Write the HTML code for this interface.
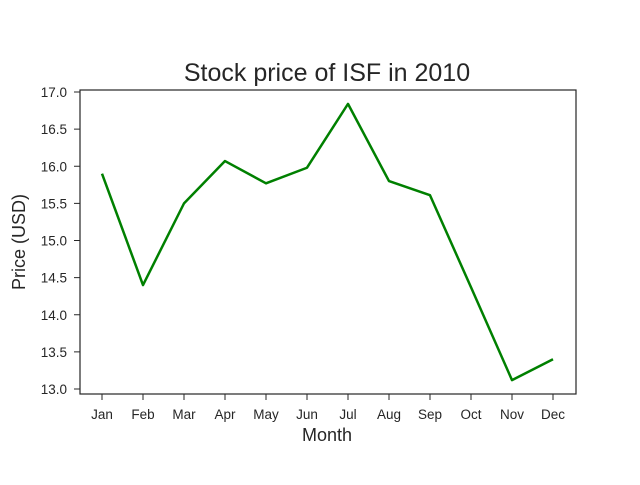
<!DOCTYPE html>
<html><head><meta charset="utf-8"><style>
body{margin:0;background:#fff;}
svg text{font-family:"Liberation Sans","DejaVu Sans",sans-serif;fill:#262626;}
</style></head><body>
<svg width="640" height="480">
<text x="327" y="81" font-size="25" text-anchor="middle">Stock price of ISF in 2010</text>
<g id="yticks"></g>
<g id="xticks"></g>
<path id="line" fill="none" stroke="#008000" stroke-width="2.5" stroke-linejoin="round"/>
<rect x="80" y="90" width="496" height="304" fill="none" stroke="#262626" stroke-width="1.2"/>
<text x="327" y="441" font-size="18" text-anchor="middle">Month</text>
<text transform="translate(25,242) rotate(-90)" font-size="18" text-anchor="middle">Price (USD)</text>
</svg>
<script>
const months=["Jan","Feb","Mar","Apr","May","Jun","Jul","Aug","Sep","Oct","Nov","Dec"];
const prices=[15.90,14.40,15.50,16.07,15.77,15.98,16.84,15.80,15.61,14.37,13.12,13.40];
const yTicks=[13.0,13.5,14.0,14.5,15.0,15.5,16.0,16.5,17.0];
const NS="http://www.w3.org/2000/svg";
function y(v){return 389-(v-13)*74.25;}
function x(i){return 102+i*41;}
const yg=document.getElementById('yticks'),xg=document.getElementById('xticks');
yTicks.forEach(t=>{
 const l=document.createElementNS(NS,'line');
 l.setAttribute('x1',74);l.setAttribute('x2',80);l.setAttribute('y1',y(t));l.setAttribute('y2',y(t));l.setAttribute('stroke','#262626');
 
 
 yg.appendChild(l);
 const tx=document.createElementNS(NS,'text');
 tx.setAttribute('x',67);tx.setAttribute('y',y(t)+5);tx.setAttribute('font-size','13.5');tx.setAttribute('text-anchor','end');
 tx.textContent=t.toFixed(1);
 
 
 yg.appendChild(tx);
});
months.forEach((m,i)=>{
 const l=document.createElementNS(NS,'line');
 l.setAttribute('x1',x(i));l.setAttribute('x2',x(i));l.setAttribute('y1',394);l.setAttribute('y2',400);l.setAttribute('stroke','#262626');
 
 
 xg.appendChild(l);
 const tx=document.createElementNS(NS,'text');
 tx.setAttribute('x',x(i));tx.setAttribute('y',419);tx.setAttribute('font-size','13.5');tx.setAttribute('text-anchor','middle');
 tx.textContent=m;
 
 
 xg.appendChild(tx);
});
document.getElementById('line').setAttribute('d',prices.map((p,i)=>(i?'L':'M')+x(i)+','+y(p)).join(' '));
</script>
</body></html>
